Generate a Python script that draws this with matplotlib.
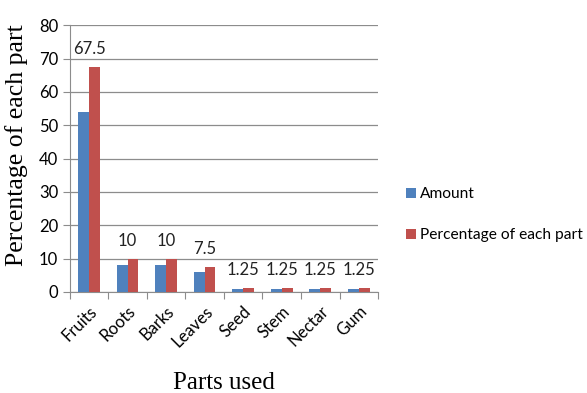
import matplotlib.pyplot as plt
import numpy as np

parts = ['Fruits', 'Roots', 'Barks', 'Leaves', 'Seed', 'Stem', 'Nectar', 'Gum']
amount = [54, 8, 8, 6, 1, 1, 1, 1]
percent = [67.5, 10, 10, 7.5, 1.25, 1.25, 1.25, 1.25]
pct_labels = ['67.5', '10', '10', '7.5', '1.25', '1.25', '1.25', '1.25']

sans = ['Lato', 'DejaVu Sans']
serif = ['Liberation Serif', 'DejaVu Serif']

fig = plt.figure(figsize=(5.87, 3.93), dpi=100)
ax = fig.add_axes([0.119, 0.257, 0.525, 0.679])

x = np.arange(len(parts))
w = 0.28
ax.bar(x - w/2, amount, w, color='#4F81BD', label='Amount', zorder=3)
bars = ax.bar(x + w/2, percent, w, color='#C0504D', label='Percentage of each part', zorder=3)
for b, t in zip(bars, pct_labels):
    ax.text(b.get_x() + b.get_width()/2 - w/2, b.get_height() + 3, t,
            ha='center', va='bottom', fontsize=12, family=sans, color='#222222')

ax.set_xlim(-0.5, len(parts) - 0.5)
ax.set_ylim(0, 80)
ax.set_yticks(range(0, 81, 10))
ax.yaxis.grid(True, color='#8c8c8c', linewidth=0.9, zorder=0)
ax.set_axisbelow(True)
ax.set_xticks(np.arange(len(parts) + 1) - 0.5)
ax.set_xticklabels([])
ax.set_xticks(x, minor=True)
ax.set_xticklabels(parts, minor=True, rotation=45, ha='right', rotation_mode='anchor',
                   fontsize=12, family=sans)
ax.tick_params(axis='x', which='minor', length=0, pad=8)
ax.tick_params(axis='x', which='major', length=5, color='#8c8c8c')
ax.tick_params(axis='y', length=5, color='#8c8c8c', labelsize=12)
for lab in ax.get_yticklabels():
    lab.set_family(sans)
for s in ['top', 'right']:
    ax.spines[s].set_visible(False)
for s in ['left', 'bottom']:
    ax.spines[s].set_color('#8c8c8c')

ax.set_ylabel('Percentage of each part', fontsize=18.5, family=serif, labelpad=4)
ax.yaxis.set_label_coords(-0.135, 0.55)
ax.set_xlabel('Parts used', fontsize=18, family=serif, labelpad=16)

leg = fig.legend(loc='upper left', bbox_to_anchor=(0.692, 0.524), frameon=False,
                 prop={'family': sans, 'size': 11.2}, handlelength=0.6, handleheight=0.6,
                 handletextpad=0.3, labelspacing=1.75, borderpad=0, borderaxespad=0)

fig.savefig('out.png', dpi=100)
